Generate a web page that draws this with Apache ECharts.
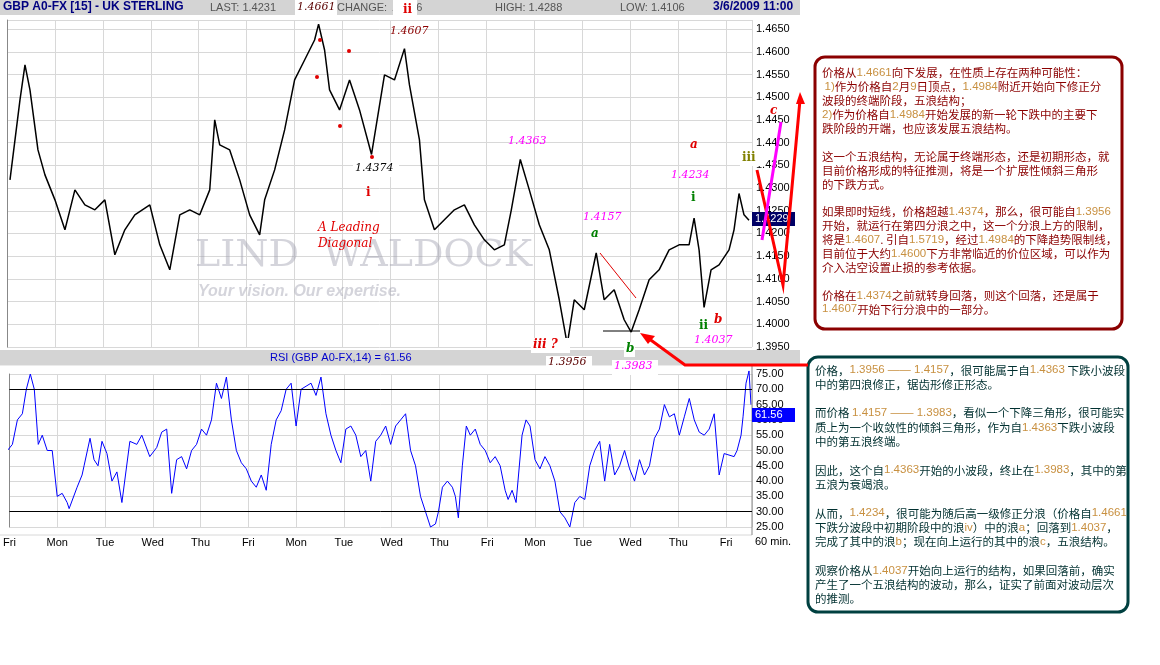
<!DOCTYPE html>
<html><head><meta charset="utf-8">
<script src="https://cdn.jsdelivr.net/npm/echarts@6/dist/echarts.min.js"></script>
<style>html,body{margin:0;padding:0;background:#fff}#c{width:1160px;height:665px}</style>
</head><body><div id="c"></div>
<script>
const dayLabels=['Fri','Mon','Tue','Wed','Thu','Fri','Mon','Tue','Wed','Thu','Fri','Mon','Tue','Wed','Thu','Fri'];
const priceHours=[1.5,6.5,9,11.5,15.5,19,24,29,34,39,44,49,54,59,64,71.5,76.5,81.5,86.5,91.5,96.5,101.5,104,106.5,111.5,116.5,121.5,126.5,129,134,139,144,149,154,156,159,161.5,166.5,171.5,176.5,182.5,189,194,199,201.5,206.5,209,214,219,224,229,234,239,244,249,252.5,257,261.5,266.5,271.5,276.5,280.5,284,289,295,299,304,309,312.5,316.5,321.5,326.5,331.5,336.5,341.5,344,346.5,349,352.5,356.5,361.5,364,366.5,369,371.5];
const priceValues=[1.4318,1.4494,1.4571,1.4516,1.4384,1.4329,1.4274,1.4208,1.4296,1.4263,1.4252,1.4274,1.4153,1.4208,1.4241,1.4263,1.4175,1.4120,1.4241,1.4252,1.4241,1.4296,1.4450,1.4395,1.4384,1.4318,1.4241,1.4197,1.4274,1.4340,1.4428,1.4538,1.4582,1.4626,1.4661,1.4604,1.4516,1.4472,1.4538,1.4472,1.4374,1.4549,1.4538,1.4607,1.4527,1.4406,1.4274,1.4208,1.4230,1.4252,1.4263,1.4219,1.4186,1.4164,1.4175,1.4252,1.4363,1.4296,1.4219,1.4164,1.4054,1.3956,1.4054,1.4032,1.4157,1.4054,1.4076,1.4010,1.3983,1.4032,1.4098,1.4120,1.4164,1.4175,1.4175,1.4234,1.4164,1.4037,1.4120,1.4131,1.4164,1.4208,1.4288,1.4241,1.4229];
const rsiHours=[-3.5,-1,1.5,4,6.5,8.5,10.5,12.5,14.5,16.5,19,21.5,24,26.5,29,30,34,36.5,37.5,40.5,42.5,44.5,46.5,49,51.5,54,56.5,60.5,64,66.5,70.5,74,76.5,79,81.5,84,86.5,89,91.5,94,96.5,99,101.5,104,106.5,109,111.5,114,116.5,119,121.5,124,126.5,129,131.5,134,136.5,139,141.5,144,146.5,149,151.5,154,156.5,159,161.5,164,166.5,169,171.5,174,176.5,179,181.5,184,186.5,189,191.5,194,196.5,199,201.5,204,206.5,209,211.5,214,215.5,217.5,220,222.5,224,225.5,227.5,229.5,231.5,234,236.5,239,241.5,244,246.5,249,250.5,252.5,254.5,257.5,259.5,261.5,264,266.5,269,271.5,274,276.5,279,281.5,284,286.5,289,291.5,294,296.5,299,301.5,304,306.5,309,311.5,314,316.5,319,321.5,324,326.5,329,331.5,334,336.5,339,341.5,344,346.5,349,351.5,354,356.5,359,364,365.5,367.5,368.5,370,371.5,372.5];
const rsiValues=[48,50,52,60,62,70,75,70,52,55,50,50,35,36,33,31,38,42,45,54,47,45,53,49,40,43,33,53,52,55,48,51,56,57,36,47,48,44,50,52,57,55,60,72,67,74,60,50,46,44,40,38,42,37,52,60,63,70,72,58,70,71,72,68,74,62,55,50,46,57,58,55,48,50,40,53,55,58,52,58,60,62,50,45,35,30,25,26,30,38,40,38,35,28,45,58,55,57,52,50,46,48,45,37,34,37,33,55,60,58,47,44,48,45,40,30,28,25,33,35,34,45,50,53,40,52,42,45,50,44,40,47,42,45,54,57,65,61,62,55,61,67,60,56,55,57,62,42,49,48,50,55,61,72,76,65,60,62];
const priceTicks={min:1.395,max:1.467,interval:0.005};
const rsiTicks={min:25,max:75,interval:5,upper:70,lower:30};

const ch=echarts.init(document.getElementById('c'));
const dayFmt=v=>{const i=Math.round(v/24);return (Math.abs(v-i*24)<0.01&&i>=0&&i<dayLabels.length)?dayLabels[i]:'';};
const RED='#8b0000',NUM='#c89040';
function box(lines){return lines.join('\n');}
const t1=box([
'价格从{n|1.4661}向下发展，在性质上存在两种可能性：',
' {n|1)}作为价格自{n|2}月{n|9}日顶点，{n|1.4984}附近开始向下修正分',
'波段的终端阶段，五浪结构；',
'{n|2)}作为价格自{n|1.4984}开始发展的新一轮下跌中的主要下',
'跌阶段的开端，也应该发展五浪结构。','',
'这一个五浪结构，无论属于终端形态，还是初期形态，就',
'目前价格形成的特征推测，将是一个扩展性倾斜三角形',
'的下跌方式。','',
'如果即时短线，价格超越{n|1.4374}，那么，很可能自{n|1.3956}',
'开始，就运行在第四分浪之中，这一个分浪上方的限制，',
'将是{n|1.4607}. 引自{n|1.5719}，经过{n|1.4984}的下降趋势限制线，',
'目前位于大约{n|1.4600}下方非常临近的价位区域，可以作为',
'介入沽空设置止损的参考依据。','',
'价格在{n|1.4374}之前就转身回落，则这个回落，还是属于',
'{n|1.4607}开始下行分浪中的一部分。']);
const t2=box([
'价格，{n|1.3956 —— 1.4157}，很可能属于自{n|1.4363} 下跌小波段',
'中的第四浪修正，锯齿形修正形态。','',
'而价格 {n|1.4157 —— 1.3983}，看似一个下降三角形，很可能实',
'质上为一个收敛性的倾斜三角形，作为自{n|1.4363}下跌小波段',
'中的第五浪终端。','',
'因此，这个自{n|1.4363}开始的小波段，终止在{n|1.3983}，其中的第',
'五浪为衰竭浪。','',
'从而，{n|1.4234}，很可能为随后高一级修正分浪（价格自{n|1.4661}',
'下跌分波段中初期阶段中的浪{n|iv}）中的浪{n|a}；回落到{n|1.4037}，',
'完成了其中的浪{n|b}；现在向上运行的其中的浪{n|c}，五浪结构。','',
'观察价格从{n|1.4037}开始向上运行的结构，如果回落前，确实',
'产生了一个五浪结构的波动，那么，证实了前面对波动层次',
'的推测。']);
function lbl(x,y,text,color,opt){return {type:'text',x:x,y:y,z:50,style:Object.assign({text:text,fill:color,font:'italic 11px "DejaVu Serif", serif'},opt||{})};}
function bglbl(x,y,text,color,font){return [{type:'rect',z:49,shape:{x:x-2,y:y-1,width:text.length*7+4,height:15},style:{fill:'#fff'}},{type:'text',z:50,x:x,y:y,style:{text:text,fill:color,font:font||'italic 11px "DejaVu Serif", serif'}}];}
const opt={
 animation:false,backgroundColor:'#fff',
 grid:[{left:7,top:20,width:745,height:327},{left:7,top:374,width:745,height:153}],
 xAxis:[
  {gridIndex:0,type:'value',min:0,max:373,interval:24,axisLine:{show:false},axisTick:{show:false},axisLabel:{show:false},splitLine:{lineStyle:{color:'#d8d8d8'}}},
  {gridIndex:1,type:'value',min:0,max:373,interval:24,axisLine:{show:false},axisTick:{show:false},axisLabel:{formatter:dayFmt,color:'#000',fontSize:11,fontFamily:'Liberation Sans',margin:10},splitLine:{lineStyle:{color:'#d8d8d8'}}}],
 yAxis:[
  {gridIndex:0,type:'value',position:'right',min:priceTicks.min,max:priceTicks.max,interval:priceTicks.interval,axisLine:{show:true,lineStyle:{color:'#888'}},axisTick:{show:false},axisLabel:{showMaxLabel:false,formatter:v=>v.toFixed(4),color:'#000',fontSize:11,fontFamily:'Liberation Sans',margin:4},splitLine:{lineStyle:{color:'#d8d8d8'}}},
  {gridIndex:1,type:'value',position:'right',min:rsiTicks.min,max:rsiTicks.max,interval:rsiTicks.interval,axisLine:{show:true,lineStyle:{color:'#888'}},axisTick:{show:false},axisLabel:{formatter:v=>v.toFixed(2),color:'#000',fontSize:11,fontFamily:'Liberation Sans',margin:4},splitLine:{lineStyle:{color:'#d8d8d8'}}}],
 series:[
  {type:'line',xAxisIndex:0,yAxisIndex:0,data:priceHours.map((h,i)=>[h,priceValues[i]]),symbol:'none',lineStyle:{color:'#000',width:1.5},clip:true},
  {type:'line',xAxisIndex:1,yAxisIndex:1,data:rsiHours.map((h,i)=>[h,rsiValues[i]]),symbol:'none',lineStyle:{color:'#0000ff',width:1},clip:false,
   markLine:{silent:true,symbol:'none',label:{show:false},lineStyle:{color:'#000',width:1,type:'solid'},data:[{yAxis:rsiTicks.upper},{yAxis:rsiTicks.lower}]}}
 ],
 graphic:[
  {type:'rect',z:40,shape:{x:0,y:0,width:800,height:15},style:{fill:'#d4d4d4'}},
  {type:'text',z:41,x:3,y:1,style:{text:'GBP A0-FX [15] - UK STERLING',fill:'#000080',font:'bold 12px "Liberation Sans"'}},
  {type:'text',z:41,x:210,y:2,style:{text:'LAST: 1.4231',fill:'#555',font:'11px "Liberation Sans"'}},
  {type:'text',z:41,x:337,y:2,style:{text:'CHANGE: ▲     6',fill:'#555',font:'11px "Liberation Sans"'}},
  {type:'text',z:41,x:495,y:2,style:{text:'HIGH: 1.4288',fill:'#555',font:'11px "Liberation Sans"'}},
  {type:'text',z:41,x:620,y:2,style:{text:'LOW: 1.4106',fill:'#555',font:'11px "Liberation Sans"'}},
  {type:'text',z:41,x:713,y:1,style:{text:'3/6/2009 11:00',fill:'#000080',font:'bold 12px "Liberation Sans"'}},
  {type:'rect',z:41,shape:{x:295,y:0,width:42,height:15},style:{fill:'#fff'}},
  {type:'text',z:42,x:297,y:2,style:{text:'1.4661',fill:'#5a0000',font:'italic 11px "DejaVu Serif"'}},
  {type:'rect',z:41,shape:{x:393,y:0,width:24,height:18},style:{fill:'#fff'}},
  {type:'text',z:42,x:403,y:4,style:{text:'ii',fill:'#e00000',font:'bold 12px "DejaVu Serif"'}},
  {type:'rect',z:40,shape:{x:0,y:350,width:800,height:15},style:{fill:'#d4d4d4'}},
  {type:'text',z:41,x:270,y:352,style:{text:'RSI (GBP A0-FX,14) = 61.56',fill:'#0000cc',font:'11px "Liberation Sans"'}},
  {type:'line',z:5,shape:{x1:0,y1:365,x2:752,y2:365},style:{stroke:'#d8d8d8'}},
  {type:'line',z:5,shape:{x1:0,y1:535,x2:752,y2:535},style:{stroke:'#d8d8d8'}},
  {type:'line',z:5,shape:{x1:752,y1:365,x2:752,y2:535},style:{stroke:'#888'}},
  {type:'text',z:41,x:755,y:536,style:{text:'60 min.',fill:'#000',font:'11px "Liberation Sans"'}},
  {type:'rect',z:41,shape:{x:752,y:212,width:43,height:14},style:{fill:'#000066'}},
  {type:'text',z:42,x:755,y:213,style:{text:'1.4229',fill:'#fff',font:'11px "Liberation Sans"'}},
  {type:'rect',z:41,shape:{x:752,y:408,width:43,height:14},style:{fill:'#0000ff'}},
  {type:'text',z:42,x:755,y:409,style:{text:'61.56',fill:'#fff',font:'11px "Liberation Sans"'}},
  {type:'text',z:3,x:195,y:237,style:{text:'LIND  WALDOCK',fill:'rgba(160,160,175,0.45)',font:'38px "DejaVu Serif"'}},
  {type:'text',z:3,x:198,y:284,style:{text:'Your vision. Our expertise.',fill:'rgba(160,160,175,0.45)',font:'italic bold 16px "Liberation Sans"'}},
  {type:'circle',z:45,shape:{cx:320,cy:40,r:2},style:{fill:'#e00000'}},
  {type:'circle',z:45,shape:{cx:317,cy:77,r:2},style:{fill:'#e00000'}},
  {type:'circle',z:45,shape:{cx:349,cy:51,r:2},style:{fill:'#e00000'}},
  {type:'circle',z:45,shape:{cx:340,cy:126,r:2},style:{fill:'#e00000'}},
  {type:'circle',z:45,shape:{cx:372,cy:157,r:2},style:{fill:'#e00000'}},
  lbl(390,26,'1.4607','#8b0000'),
  ...bglbl(355,163,'1.4374','#000'),
  lbl(366,187,'i','#e00000',{font:'bold 12px "DejaVu Serif"'}),
  lbl(318,220,'A Leading\nDiagonal','#e00000',{font:'italic 12px "DejaVu Serif"',lineHeight:16}),
  lbl(508,136,'1.4363','#ff00ff'),
  lbl(583,212,'1.4157','#ff00ff'),
  lbl(591,228,'a','#008000',{font:'italic bold 12px "DejaVu Serif"'}),
  ...bglbl(533,339,'iii ?','#e00000','italic bold 12px "DejaVu Serif"'),
  ...bglbl(548,357,'1.3956','#5a0000'),
  ...bglbl(626,343,'b','#008000','italic bold 12px "DejaVu Serif"'),
  ...bglbl(614,361,'1.3983','#ff00ff'),
  lbl(690,139,'a','#e00000',{font:'italic bold 12px "DejaVu Serif"'}),
  lbl(671,170,'1.4234','#ff00ff'),
  lbl(691,192,'i','#008000',{font:'bold 12px "DejaVu Serif"'}),
  lbl(699,320,'ii','#008000',{font:'bold 12px "DejaVu Serif"'}),
  lbl(714,314,'b','#e00000',{font:'italic bold 12px "DejaVu Serif"'}),
  lbl(694,335,'1.4037','#ff00ff'),
  ...bglbl(742,152,'iii','#808000','bold 12px "DejaVu Serif"'),
  lbl(770,105,'c','#e00000',{font:'italic bold 12px "DejaVu Serif"'}),
  {type:'line',z:45,shape:{x1:600,y1:253,x2:636,y2:298},style:{stroke:'#e00000',lineWidth:1}},
  {type:'line',z:45,shape:{x1:603,y1:331,x2:640,y2:331},style:{stroke:'#000',lineWidth:1}},
  {type:'polyline',z:46,shape:{points:[[757,170],[783,285],[800,100]]},style:{stroke:'#ff0000',lineWidth:3,fill:null}},
  {type:'polygon',z:46,shape:{points:[[800,92],[796,104],[805,104]]},style:{fill:'#ff0000'}},
  {type:'polyline',z:46,shape:{points:[[762,240],[781,122]]},style:{stroke:'#ff00ff',lineWidth:3,fill:null}},
  {type:'polyline',z:46,shape:{points:[[808,365],[685,365],[648,338]]},style:{stroke:'#ff0000',lineWidth:3,fill:null}},
  {type:'polygon',z:46,shape:{points:[[640,333],[655,336],[648,344]]},style:{fill:'#ff0000'}},
  {type:'rect',z:30,shape:{x:815,y:57,width:307,height:272,r:10},style:{fill:'#fff',stroke:'#8b0000',lineWidth:3}},
  {type:'text',z:31,x:822,y:66,style:{text:t1,fill:RED,font:'11.5px "Noto Sans CJK SC"',lineHeight:13.9,rich:{n:{fill:NUM,font:'11.5px "Liberation Sans"',lineHeight:13.9}}}},
  {type:'rect',z:30,shape:{x:808,y:357,width:320,height:255,r:10},style:{fill:'#fff',stroke:'#004040',lineWidth:3}},
  {type:'text',z:31,x:815,y:363,style:{text:t2,fill:'#003030',font:'11.5px "Noto Sans CJK SC"',lineHeight:14.3,rich:{n:{fill:NUM,font:'11.5px "Liberation Sans"',lineHeight:14.3}}}}
 ]
};
ch.setOption(opt);
</script></body></html>
